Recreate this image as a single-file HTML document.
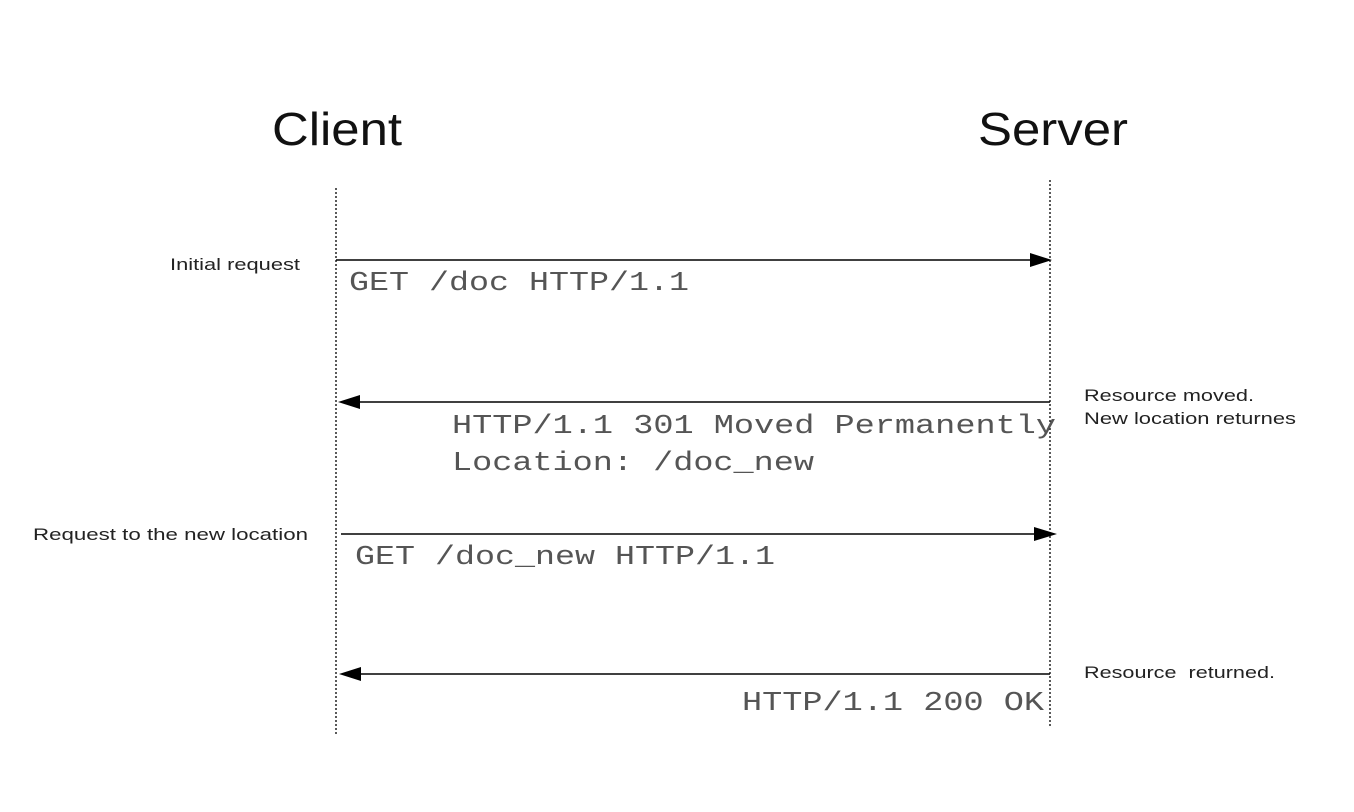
<!DOCTYPE html>
<html><head><meta charset="utf-8"><style>
html,body{margin:0;padding:0;background:#fff;}
svg{display:block;}
.m{font-family:"Liberation Mono","Courier New",monospace;font-size:27px;fill:#555;}
.s{font-family:"Liberation Sans",Arial,sans-serif;font-size:17px;fill:#222;}
.t{font-family:"Liberation Sans",Arial,sans-serif;font-size:46px;fill:#111;}
</style></head><body>
<svg width="1354" height="812" viewBox="0 0 1354 812" xmlns="http://www.w3.org/2000/svg">
<text class="t" x="272" y="145" textLength="130" lengthAdjust="spacingAndGlyphs">Client</text>
<text class="t" x="978" y="145" textLength="150" lengthAdjust="spacingAndGlyphs">Server</text>
<line x1="336" y1="188" x2="336" y2="735" stroke="#000" stroke-width="1.3" stroke-dasharray="2,2"/>
<line x1="1050" y1="180" x2="1050" y2="727" stroke="#000" stroke-width="1.3" stroke-dasharray="2,2"/>
<line x1="336" y1="260" x2="1035" y2="260" stroke="#000" stroke-width="1.5"/>
<polygon points="1030,253 1052,260 1030,267" fill="#000"/>
<text class="m" x="349" y="290" textLength="340" lengthAdjust="spacingAndGlyphs">GET /doc HTTP/1.1</text>
<text class="s" x="170" y="270" textLength="130" lengthAdjust="spacingAndGlyphs">Initial request</text>
<line x1="352" y1="402" x2="1050" y2="402" stroke="#000" stroke-width="1.5"/>
<polygon points="360,395 338,402 360,409" fill="#000"/>
<text class="m" x="452" y="433" textLength="604" lengthAdjust="spacingAndGlyphs">HTTP/1.1 301 Moved Permanently</text>
<text class="m" x="452" y="470" textLength="362" lengthAdjust="spacingAndGlyphs">Location: /doc_new</text>
<text class="s" x="1084" y="401" textLength="170" lengthAdjust="spacingAndGlyphs">Resource moved.</text>
<text class="s" x="1084" y="424" textLength="212" lengthAdjust="spacingAndGlyphs">New location returnes</text>
<line x1="341" y1="534" x2="1040" y2="534" stroke="#000" stroke-width="1.5"/>
<polygon points="1034,527 1057,534 1034,541" fill="#000"/>
<text class="m" x="355" y="564" textLength="420" lengthAdjust="spacingAndGlyphs">GET /doc_new HTTP/1.1</text>
<text class="s" x="33" y="540" textLength="275" lengthAdjust="spacingAndGlyphs">Request to the new location</text>
<line x1="352" y1="674" x2="1050" y2="674" stroke="#000" stroke-width="1.5"/>
<polygon points="361,667 339,674 361,681" fill="#000"/>
<text class="m" x="742" y="710" textLength="302" lengthAdjust="spacingAndGlyphs">HTTP/1.1 200 OK</text>
<text class="s" x="1084" y="678" textLength="191" lengthAdjust="spacingAndGlyphs">Resource&#160;&#160;returned.</text>
</svg>
</body></html>
